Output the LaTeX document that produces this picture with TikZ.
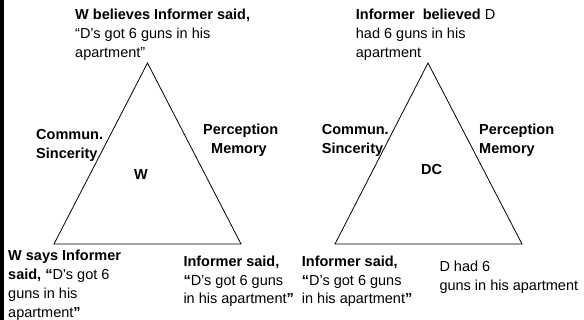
\documentclass[tikz,border=0pt]{standalone}
\usepackage{fontspec}
\setmainfont{Liberation Sans}
\begin{document}
\begin{tikzpicture}[x=1pt,y=-1pt,
  lbl/.style={anchor=base west,inner sep=0pt,align=left,font=\fontsize{14.5}{18.6}\selectfont},
  lblb/.style={lbl,font=\fontsize{14.5}{18.6}\selectfont\bfseries},
  tri/.style={draw=black,line width=0.8pt,line join=miter}]
\useasboundingbox (0,0) rectangle (584,320);
\fill[black] (0,0) rectangle (3.5,320);
% left triangle
\coordinate (wa) at (147.5,63);
\coordinate (wl) at (54,244);
\coordinate (wr) at (241,244);
\draw[tri] (wa) -- (wl) -- (wr) -- cycle;
% right triangle
\coordinate (da) at (428,63);
\coordinate (dl) at (335,244);
\coordinate (dr) at (522,244);
\draw[tri] (da) -- (dl) -- (dr) -- cycle;
% top texts (anchored at the baseline of their last line)
\node[lbl] (wtop) at (75,57.2) {\textbf{W believes Informer said,}\\“D’s got 6 guns in his\\apartment”};
\node[lbl] (dtop) at (355.7,57.2) {\textbf{Informer\ \ believed} D\\had 6 guns in his\\apartment};
% side labels
\node[lblb] (wcs) at (36,158.1) {Commun.\\Sincerity};
\node[lblb] (wpm) at (203,153.1) {Perception\\\hspace*{8pt}Memory};
\node[lblb] (dcs) at (321.7,153.6) {Commun.\\Sincerity};
\node[lblb] (dpm) at (479,153.6) {Perception\\Memory};
% centre labels
\node[lblb,anchor=center] (wc) at (141,174.5) {W};
\node[lblb,anchor=center] (dc) at (431.5,170) {DC};
% bottom texts
\node[lbl,font=\fontsize{14.5}{19}\selectfont] (wbl) at (8,318) {\textbf{W says Informer}\\\textbf{said, “}D’s got 6\\guns in his\\apartment\textbf{”}};
\node[lbl] (wbr) at (183.3,303.9) {\textbf{Informer said,}\\\textbf{“}D’s got 6 guns\\in his apartment\textbf{”}};
\node[lbl] (dbl) at (301.7,303.9) {\textbf{Informer said,}\\\textbf{“}D’s got 6 guns\\in his apartment\textbf{”}};
\node[lbl] (dbr) at (439.3,290.3) {D had 6\\guns in his apartment};
\end{tikzpicture}
\end{document}
